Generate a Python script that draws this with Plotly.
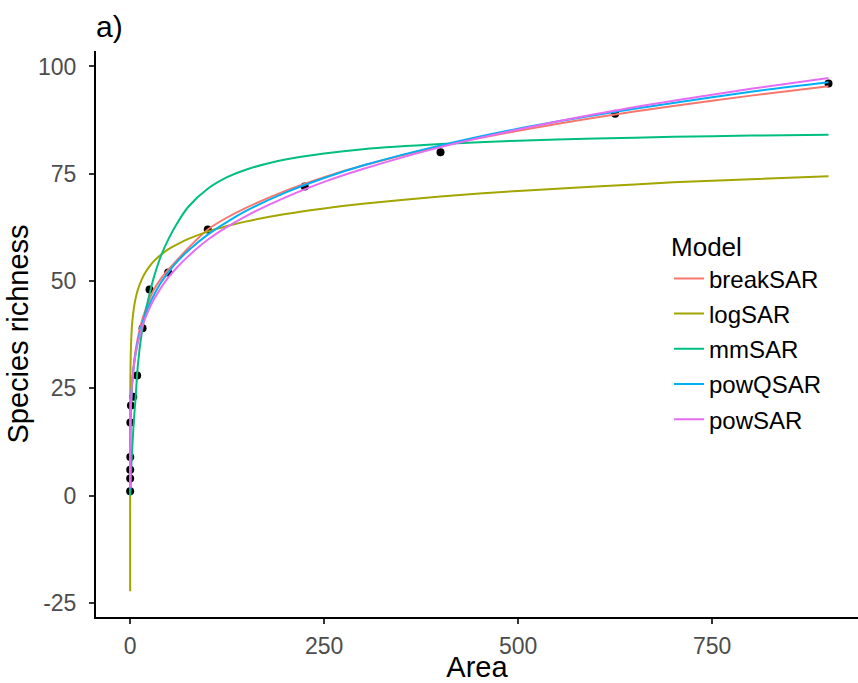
import plotly.graph_objects as go

# Observed species richness per sampled area
obs_area = [0.01, 0.04, 0.09, 0.16, 0.25, 1, 4, 9, 16, 25, 49, 100, 225, 400, 625, 900]
obs_richness = [1, 4, 6, 9, 17, 21, 23, 28, 39, 48, 52, 62, 72, 80, 89, 96]

# Areas at which the fitted model curves are evaluated
curve_area = [0.0001, 0.001, 0.01, 0.1, 0.5, 1, 2, 3, 5, 7, 10, 15, 20, 25, 30, 40,
              50, 60, 75, 100, 125, 150, 200, 250, 300, 400, 500, 600, 700, 800, 900]

# Fitted richness for each species-area model
break_sar = [1.5, 3.0, 6.0, 11.3, 17.3, 20.6, 24.6, 27.3, 31.0, 33.7, 36.8, 40.6, 43.4, 45.8, 47.8, 50.6,
             52.8, 54.8, 57.7, 62.0, 64.8, 67.1, 71.0, 74.2, 76.9, 81.4, 85.0, 88.1, 90.8, 93.2, 95.4]
log_sar = [-22.3, -6.0, 7.5, 21.0, 30.4, 34.5, 38.6, 41.0, 43.9, 45.9, 48.0, 50.4, 52.1, 53.4, 54.5, 56.2,
           57.5, 58.5, 59.8, 61.5, 62.8, 63.9, 65.6, 66.9, 68.0, 69.7, 71.0, 72.0, 73.0, 73.7, 74.4]
mm_sar = [0.0, 0.0, 0.05, 0.5, 2.3, 4.6, 8.7, 12.1, 18.0, 22.7, 30.5, 38.0, 43.0, 47.0, 50.5, 56.0,
          60.0, 63.3, 67.3, 71.5, 74.2, 76.0, 78.3, 79.7, 80.7, 81.9, 82.7, 83.2, 83.6, 83.9, 84.1]
powq_sar = [1.4, 2.9, 5.8, 11.2, 17.1, 20.5, 24.4, 27.0, 30.6, 33.1, 36.1, 39.7, 42.4, 44.6, 46.5, 49.7,
            52.2, 54.4, 57.1, 60.8, 63.8, 66.4, 70.6, 74.0, 76.9, 81.6, 85.5, 88.7, 91.5, 94.1, 96.3]
pow_sar = [1.8, 4.6, 7.6, 12.7, 18.2, 21.3, 24.9, 27.2, 30.5, 32.9, 35.6, 39.0, 41.6, 43.7, 45.5, 48.5,
           51.0, 53.1, 55.8, 59.6, 62.6, 65.2, 69.5, 73.1, 76.1, 81.2, 85.3, 88.9, 92.0, 94.8, 97.3]

model_names = ["breakSAR", "logSAR", "mmSAR", "powQSAR", "powSAR"]
model_values = [break_sar, log_sar, mm_sar, powq_sar, pow_sar]
model_colors = ["#F8766D", "#A3A500", "#00BF7D", "#00B0F6", "#E76BF3"]

x_ticks = [0, 250, 500, 750]
x_tick_labels = ["0", "250", "500", "750"]
y_ticks = [-25, 0, 25, 50, 75, 100]
y_tick_labels = ["-25", "0", "25", "50", "75", "100"]

FONT = "Liberation Sans, Arial, sans-serif"

fig = go.Figure()

fig.add_trace(go.Scatter(
    x=obs_area, y=obs_richness, mode="markers",
    marker=dict(color="black", size=8),
    showlegend=False, hoverinfo="x+y",
))

for name, vals, col in zip(model_names, model_values, model_colors):
    fig.add_trace(go.Scatter(
        x=curve_area, y=vals, mode="lines", name=name, legendgroup=name,
        line=dict(color=col, width=2, shape="spline", smoothing=0.8),
    ))

axis_common = dict(
    showgrid=False, zeroline=False,
    showline=True, linecolor="black", linewidth=2,
    ticks="outside", ticklen=5, tickwidth=1.5, tickcolor="#333333",
    tickfont=dict(family=FONT, size=23, color="#4D4D4D"),
)

fig.update_layout(
    width=858, height=683,
    margin=dict(l=96, r=0, t=51, b=62),
    paper_bgcolor="white", plot_bgcolor="white",
    font=dict(family=FONT, color="black"),
    title=dict(text="a)", x=96 / 858, xanchor="left", xref="container",
               y=1 - 16 / 683, yanchor="top", yref="container",
               font=dict(family=FONT, size=30, color="black")),
    xaxis=dict(range=[-44, 938], tickvals=x_ticks, ticktext=x_tick_labels, ticklabelstandoff=2,
               title=dict(text="Area", font=dict(family=FONT, size=29, color="black"), standoff=4),
               **axis_common),
    yaxis=dict(range=[-28.3, 103.6], tickvals=y_ticks, ticktext=y_tick_labels, ticklabelstandoff=8,
               title=dict(text="Species richness", font=dict(family=FONT, size=29, color="black"), standoff=1),
               **axis_common),
    legend=dict(
        title=dict(text="Model", font=dict(family=FONT, size=26, color="black")),
        font=dict(family=FONT, size=24, color="black"),
        x=0.752, xanchor="left", y=0.697, yanchor="top",
        bgcolor="rgba(255,255,255,0)", tracegroupgap=1,
    ),
)

fig.write_html("out.html")
